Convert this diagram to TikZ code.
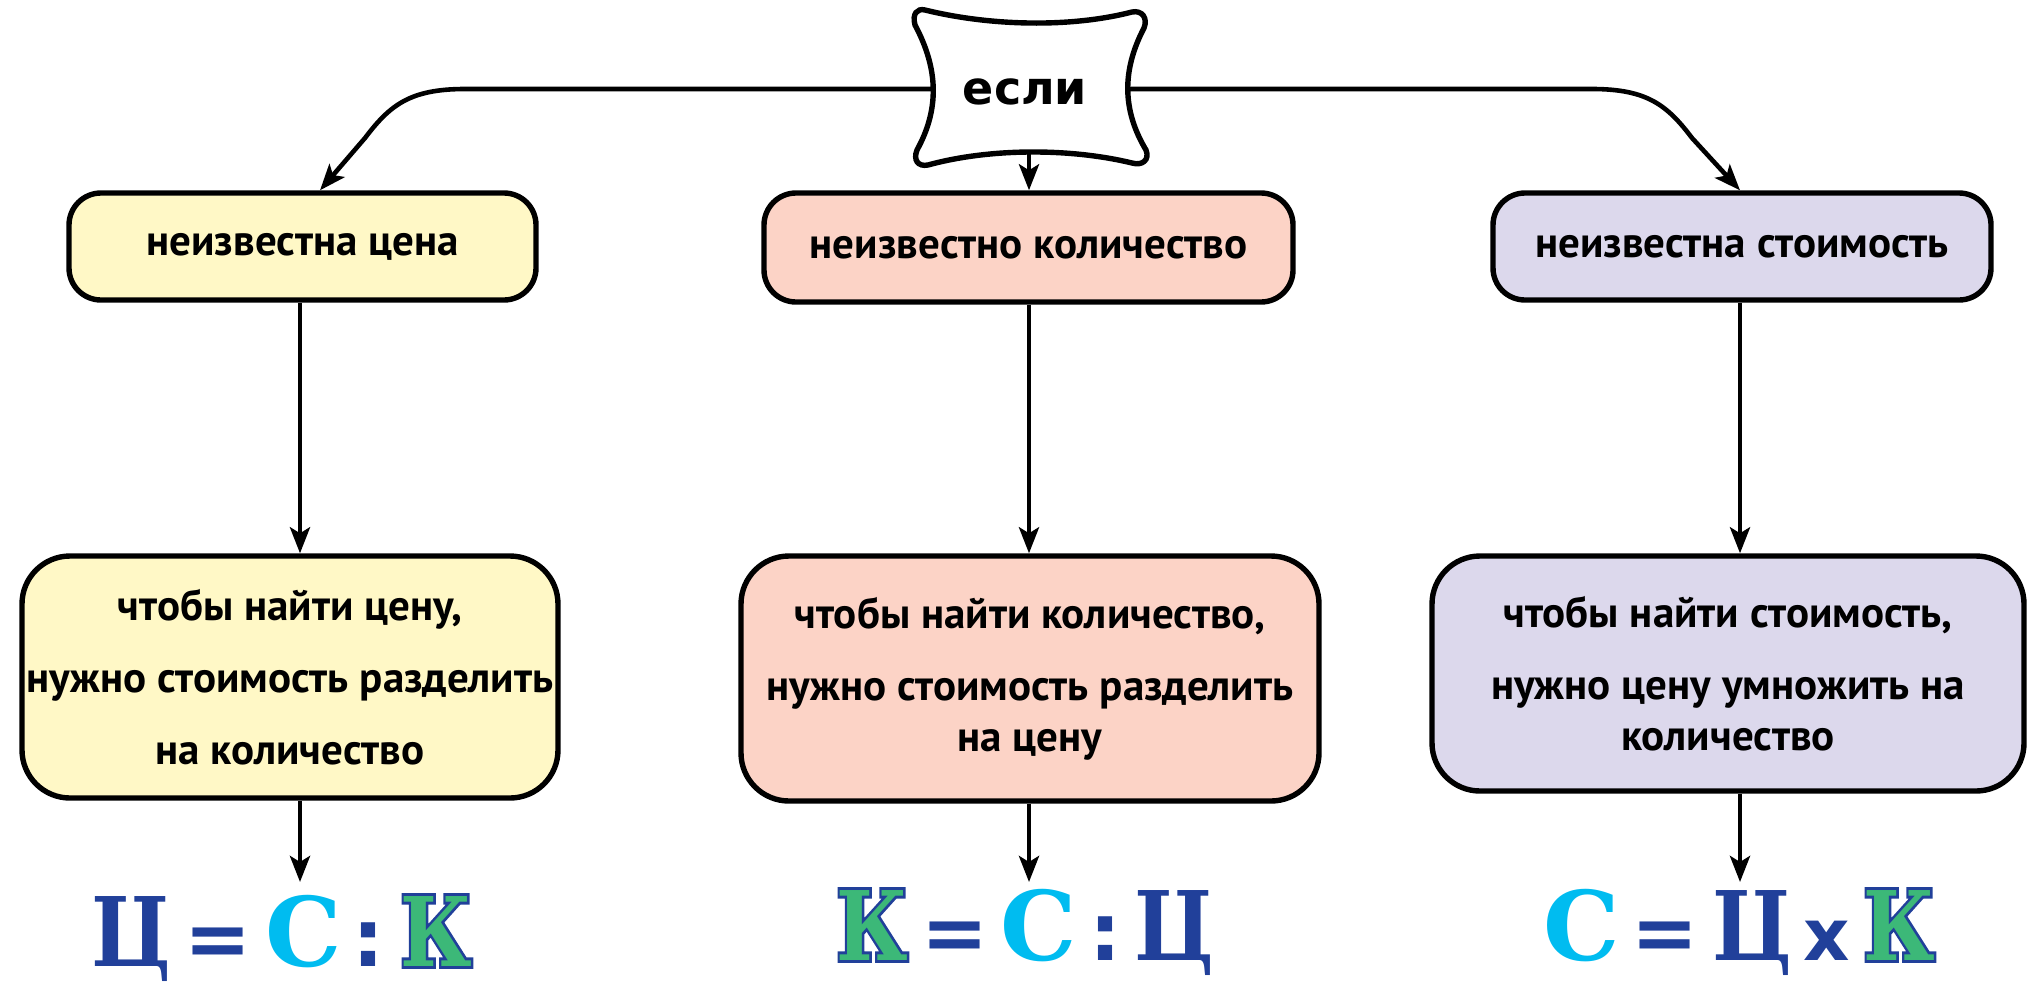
\documentclass[tikz,border=0pt]{standalone}
\usepackage{fontspec}
\setmainfont{PT Sans}
\newfontfamily\iffont{DejaVu Sans}
\newfontfamily\frmserif{DejaVu Serif}
\newfontfamily\frmout{DejaVu Serif}[BoldFeatures={FakeBold=6}]
\newfontfamily\frmsans{DejaVu Sans}
\usetikzlibrary{arrows.meta}
\definecolor{cyel}{HTML}{FFF8C6}
\definecolor{cpink}{HTML}{FCD3C6}
\definecolor{clav}{HTML}{DCD8EC}
\definecolor{fblue}{HTML}{21409A}
\definecolor{fcyan}{HTML}{00BCF0}
\definecolor{fgreen}{HTML}{3CB878}
\tikzset{
  topbox/.style={draw=black, line width=2.7pt, rounded corners=16pt, inner sep=0pt, align=center,
    font=\fontsize{21.5}{25}\selectfont\bfseries},
  botbox/.style={draw=black, line width=2.7pt, rounded corners=24pt, inner sep=0pt, align=center,
    font=\fontsize{21.5}{25.5}\selectfont\bfseries},
  conn/.style={line width=2.3pt, -{Stealth[length=13pt,width=10pt,inset=3pt]}},
  gl/.style={inner sep=0pt, anchor=base},
  glserif/.style={gl, font=\frmserif\bfseries\fontsize{48}{48}\selectfont},
  gltse/.style={gl, xscale=0.86, font=\frmserif\bfseries\fontsize{48}{48}\selectfont, text=fblue},
  glk/.style={gl, xscale=0.82, font=\frmserif\bfseries\fontsize{48}{48}\selectfont, text=fgreen},
  glout/.style={gl, xscale=0.82, font=\frmout\bfseries\fontsize{48}{48}\selectfont, text=fblue},
  glsans/.style={gl, font=\frmsans\bfseries\fontsize{40}{40}\selectfont, text=fblue},
  glx/.style={gl, font=\frmsans\bfseries\fontsize{36}{36}\selectfont, text=fblue}
}
\begin{document}
\begin{tikzpicture}[x=0.5pt,y=-0.5pt]
\useasboundingbox (0,0) rectangle (2027,986);
% "если" shape
\draw[line width=2.7pt, fill=white]
  (925,10) .. controls (990,26) and (1070,28) .. (1132,12)
  .. controls (1142,10) and (1148,18) .. (1144,28)
  .. controls (1122,70) and (1122,110) .. (1146,150)
  .. controls (1150,160) and (1142,166) .. (1132,163)
  .. controls (1070,148) and (990,148) .. (928,165)
  .. controls (918,167) and (913,160) .. (917,150)
  .. controls (939,110) and (939,70) .. (915,25)
  .. controls (912,14) and (917,8) .. (925,10) -- cycle;
\node[font=\iffont\bfseries\fontsize{23}{23}\selectfont] (ifs) at (1025,92) {если};
\coordinate (ifL) at (932,89);
\coordinate (ifR) at (1127,89);
\coordinate (ifB) at (1029,154);
% top boxes
\node[topbox, fill=cyel, minimum width=233.5pt, minimum height=53.5pt] (t1) at (302.5,246.5) {неизвестна цена};
\node[topbox, fill=cpink, minimum width=264.5pt, minimum height=54.5pt] (t2) at (1028.5,247.5) {неизвестно количество};
\node[topbox, fill=clav, minimum width=249pt, minimum height=53.5pt] (t3) at (1742,246.5) {неизвестна стоимость};
% bottom boxes
\node[botbox, fill=cyel, minimum width=268pt, minimum height=121pt] (b1) at (290,677)
  {чтобы найти цену,\\[10.5pt] нужно стоимость разделить\\[10.5pt] на количество};
\node[botbox, fill=cpink, minimum width=289pt, minimum height=122.5pt] (b2) at (1030,678.5)
  {чтобы найти количество,\\[10.5pt] нужно стоимость разделить\\ на цену};
\node[botbox, fill=clav, minimum width=296pt, minimum height=117.5pt] (b3) at (1728,673.5)
  {чтобы найти стоимость,\\[10.5pt] нужно цену умножить на\\ количество};
% x positions for connectors
\coordinate (xl) at (300,0);
\coordinate (xm) at (1029,0);
\coordinate (xr) at (1740,0);
\coordinate (tl) at (320,0);
\coordinate (f1) at (300,882);
\coordinate (f2) at (1029,882);
\coordinate (f3) at (1740,882);
% connectors
\draw[conn] (ifL) -- (465,89) .. controls (410,89) and (390,105) .. (365,138) -- (t1.north -| tl);
\draw[conn] (ifR) -- (1592,89) .. controls (1647,89) and (1667,105) .. (1692,138) -- (t3.north -| xr);
\draw[conn] (ifB) -- (t2.north -| xm);
\draw[conn] (t1.south -| xl) -- (b1.north -| xl);
\draw[conn] (t2.south -| xm) -- (b2.north -| xm);
\draw[conn] (t3.south -| xr) -- (b3.north -| xr);
\draw[conn] (b1.south -| xl) -- (f1);
\draw[conn] (b2.south -| xm) -- (f2);
\draw[conn] (b3.south -| xr) -- (f3);
% formula 1: Ц = С : К
\node[gltse] (a1) at (131,966) {Ц};
\node[glsans] (a2) at (218,966) {=};
\node[glserif, text=fcyan] (a3) at (304,966) {С};
\node[glsans] (a4) at (368,966) {:};
\node[glout] (a5o) at (436,966) {К};
\node[glk] (a5) at (436,966) {К};
% formula 2: К = С : Ц
\node[glout] (m1o) at (872,960) {К};
\node[glk] (m1) at (872,960) {К};
\node[glsans] (m2) at (955,960) {=};
\node[glserif, text=fcyan] (m3) at (1039,960) {С};
\node[glsans] (m4) at (1105,960) {:};
\node[gltse] (m5) at (1174,960) {Ц};
% formula 3: С = Ц x К
\node[glserif, text=fcyan] (r1) at (1582,960) {С};
\node[glsans] (r2) at (1665,960) {=};
\node[gltse] (r3) at (1752,960) {Ц};
\node[glx] (r4) at (1827,960) {x};
\node[glout] (r5o) at (1899,960) {К};
\node[glk] (r5) at (1899,960) {К};
\end{tikzpicture}
\end{document}
